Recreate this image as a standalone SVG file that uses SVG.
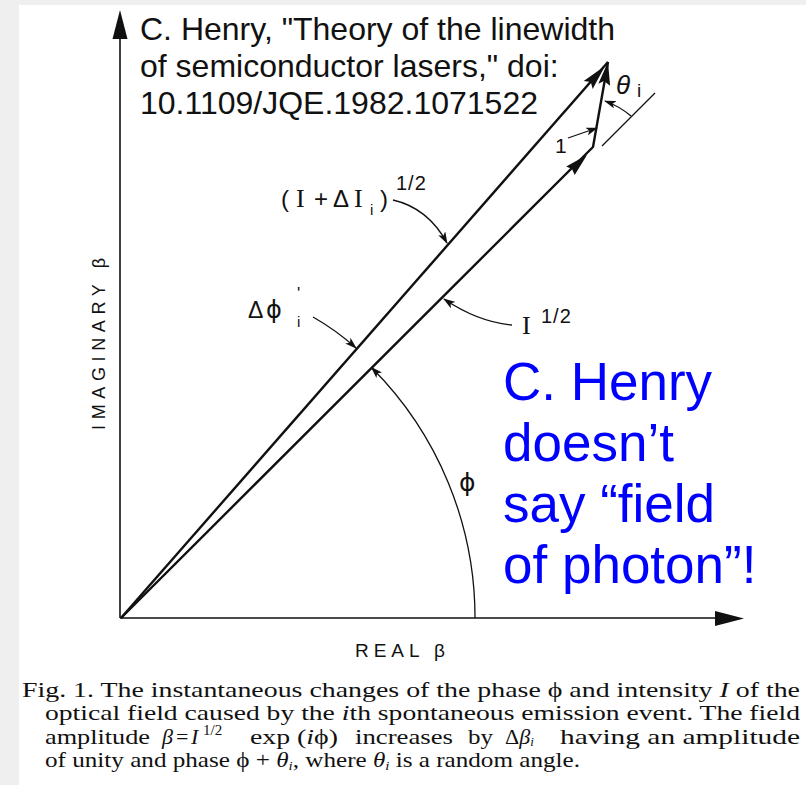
<svg xmlns="http://www.w3.org/2000/svg" width="806" height="785" viewBox="0 0 806 785">
<style>
.hdr{font-family:"Liberation Sans",Arial,sans-serif;font-size:32px;fill:#111}
.blue{font-family:"Liberation Sans",Arial,sans-serif;font-size:53px;fill:#0000ff}
.lbl{font-family:"Liberation Sans",Arial,sans-serif;fill:#111}
.phi{font-family:"DejaVu Sans",sans-serif}
.ser{font-family:"Liberation Serif","Times New Roman",serif}
.cap{font-family:"Liberation Serif","Times New Roman",serif;fill:#111}
.it{font-style:italic}
.ax{stroke:#111;stroke-width:1.6;fill:none}
.vec{stroke:#111;stroke-width:2.4;fill:none;stroke-linejoin:round}
.lead{stroke:#111;stroke-width:1.3;fill:none}
.ah{fill:#111}
</style>
<defs>
<marker id="arr" viewBox="0 0 12 8" refX="11" refY="4" markerWidth="12" markerHeight="8" markerUnits="userSpaceOnUse" orient="auto">
<path d="M0,0 L12,4 L0,8 L3,4 Z" fill="#111"/>
</marker>
</defs>
<rect x="0" y="0" width="806" height="785" fill="#efefef"/>
<rect x="19" y="5" width="787" height="780" fill="#ffffff"/>

<g id="header">
<text class="hdr" x="140" y="40">C. Henry, "Theory of the linewidth</text>
<text class="hdr" x="140" y="77">of semiconductor lasers," doi:</text>
<text class="hdr" x="140" y="114">10.1109/JQE.1982.1071522</text>
</g>

<g id="axes">
<line class="ax" x1="120" y1="618" x2="120" y2="30"/>
<polygon class="ah" points="120,10 127.5,39 112.5,39"/>
<line class="ax" x1="120" y1="618" x2="725" y2="618"/>
<polygon class="ah" points="744,618.5 715,611 715,626"/>
<text class="lbl" transform="translate(105,344) rotate(-90)" text-anchor="middle" style="font-size:18px" textLength="172" lengthAdjust="spacing">IMAGINARY β</text>
<text class="lbl" x="355" y="657" style="font-size:19px" textLength="90" lengthAdjust="spacing">REAL β</text>
</g>

<g id="connectors">
<line class="vec" x1="121" y1="618" x2="608" y2="62"/>
<polygon class="ah" points="605,66 592.7,89 590.8,82 583.7,81"/>
<polyline class="vec" points="121,618 593,147 608,62"/>
<polygon class="ah" points="587,155 574.7,174.9 572,169 566.2,166.4"/>
<polygon class="ah" points="608,62 610.1,85.7 604,81 598.3,83.7"/>
<line x1="602" y1="146" x2="655" y2="93" stroke="#111" stroke-width="1.2"/>
<path class="lead" d="M631,116 Q619,106 605,101" marker-end="url(#arr)"/>
<path class="lead" d="M475,618 A354,354 0 0 0 371.5,367.5" marker-end="url(#arr)"/>
<path class="lead" d="M393,200 Q428,208 447,243" marker-end="url(#arr)"/>
<path class="lead" d="M313,317 Q336,330 356,348" marker-end="url(#arr)"/>
<path class="lead" d="M512,325 Q478,322 444,299" marker-end="url(#arr)"/>
<path class="lead" d="M568,138 L597,128" marker-end="url(#arr)"/>
</g>

<g id="labels">
<text class="lbl" style="font-size:24px" y="207"><tspan x="281">(</tspan><tspan x="296" class="ser" style="font-size:26px">I</tspan><tspan x="314">+</tspan><tspan x="333">Δ</tspan><tspan x="354" class="ser" style="font-size:26px">I</tspan><tspan x="370" y="215" style="font-size:15px">i</tspan><tspan x="380" y="207">)</tspan></text>
<text class="lbl" x="396" y="190" style="font-size:20px;letter-spacing:1px">1/2</text>
<text class="lbl" style="font-size:23px" y="318"><tspan x="248">Δ</tspan><tspan x="266" class="phi" style="font-size:24px">ϕ</tspan></text>
<text class="lbl" x="297" y="299" style="font-size:17px">'</text>
<text class="lbl" x="297" y="327" style="font-size:15px">i</text>
<text class="lbl ser" x="522" y="334" style="font-size:26px">I</text>
<text class="lbl" x="541" y="323" style="font-size:20px;letter-spacing:1px">1/2</text>
<text class="lbl phi" x="459" y="491" style="font-size:25px">ϕ</text>
<text class="lbl" x="555" y="153" style="font-size:21px">1</text>
<text class="lbl it" x="616" y="94" style="font-size:26px">θ</text>
<text class="lbl" x="637" y="97" style="font-size:19px">i</text>
</g>

<g id="note">
<text class="blue" x="503" y="400">C. Henry</text>
<text class="blue" x="503" y="461">doesn’t</text>
<text class="blue" x="503" y="522">say “field</text>
<text class="blue" x="503" y="583">of photon”!</text>
</g>

<g id="caption">
<text class="cap" style="font-size:22px" x="22" y="697" textLength="778" lengthAdjust="spacingAndGlyphs">Fig. 1. The instantaneous changes of the phase ϕ and intensity <tspan class="it">I</tspan> of the</text>
<text class="cap" style="font-size:22px" x="45" y="720" textLength="755" lengthAdjust="spacingAndGlyphs">optical field caused by the <tspan class="it">i</tspan>th spontaneous emission event. The field</text>
<text class="cap" style="font-size:22px" x="45" y="744" textLength="105" lengthAdjust="spacingAndGlyphs">amplitude</text>
<text class="cap" style="font-size:22px" y="744"><tspan x="162" class="it">β</tspan><tspan x="176">=</tspan><tspan x="191" class="it">I</tspan></text>
<text class="cap" x="203" y="735" style="font-size:15px">1/2</text>
<text class="cap" style="font-size:22px" x="250" y="744" textLength="88" lengthAdjust="spacingAndGlyphs">exp (<tspan class="it">i</tspan>ϕ)</text>
<text class="cap" style="font-size:22px" x="355" y="744" textLength="98" lengthAdjust="spacingAndGlyphs">increases</text>
<text class="cap" style="font-size:22px" x="468" y="744" textLength="25" lengthAdjust="spacingAndGlyphs">by</text>
<text class="cap" style="font-size:22px" y="744"><tspan x="505">Δ</tspan><tspan class="it">β</tspan><tspan class="it" style="font-size:13px" dy="2">i</tspan></text>
<text class="cap" style="font-size:22px" x="560" y="744" textLength="240" lengthAdjust="spacingAndGlyphs">having an amplitude</text>
<text class="cap" style="font-size:22px" x="45" y="767" textLength="535" lengthAdjust="spacingAndGlyphs">of unity and phase ϕ + <tspan class="it">θ</tspan><tspan class="it" style="font-size:13px" dy="3">i</tspan><tspan dy="-3">, where </tspan><tspan class="it">θ</tspan><tspan class="it" style="font-size:13px" dy="3">i</tspan><tspan dy="-3"> is a random angle.</tspan></text>
</g>
</svg>
